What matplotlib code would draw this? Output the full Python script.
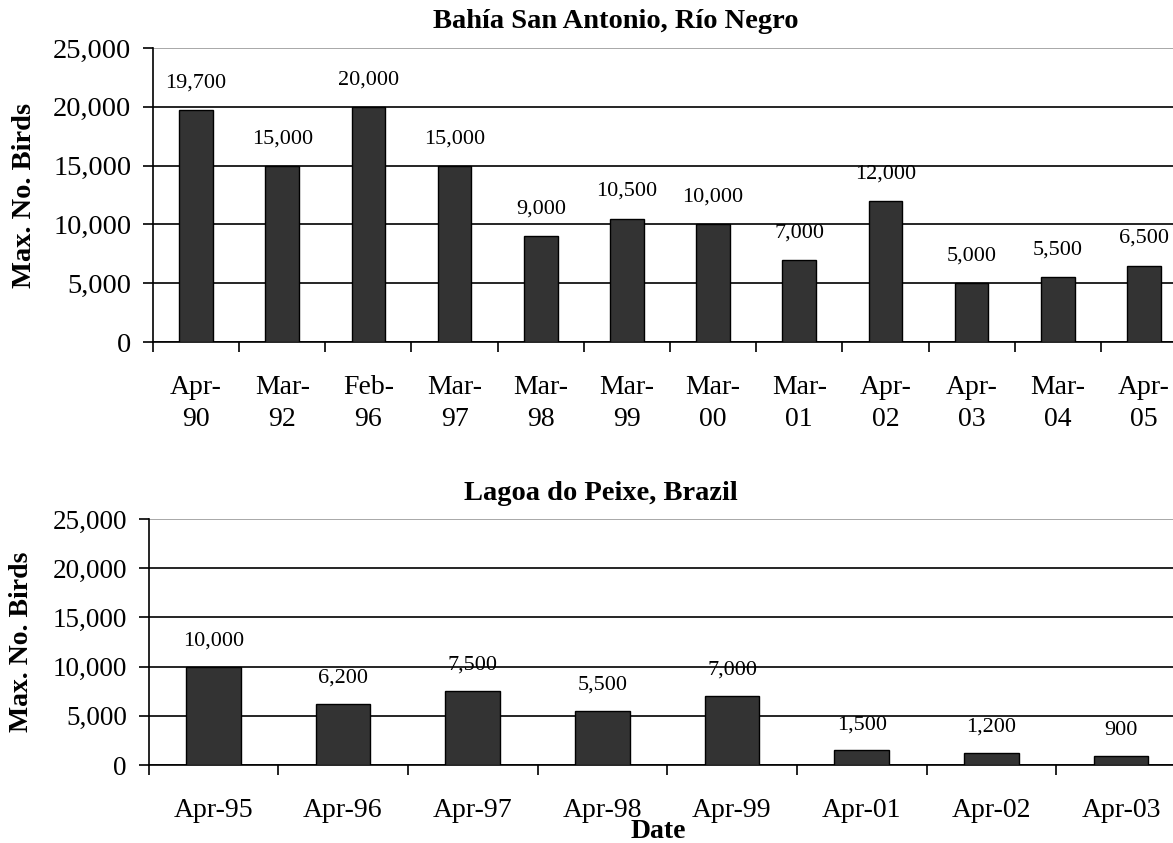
import matplotlib
matplotlib.use("Agg")
import matplotlib.pyplot as plt
import numpy as np

plt.rcParams['font.family'] = ['Liberation Serif', 'DejaVu Serif']

# Bahía San Antonio, Río Negro
rn_dates = ['Apr-\n90', 'Mar-\n92', 'Feb-\n96', 'Mar-\n97', 'Mar-\n98', 'Mar-\n99',
            'Mar-\n00', 'Mar-\n01', 'Apr-\n02', 'Apr-\n03', 'Mar-\n04', 'Apr-\n05']
rn_birds = [19700, 15000, 20000, 15000, 9000, 10500, 10000, 7000, 12000, 5000, 5500, 6500]

# Lagoa do Peixe, Brazil
lp_dates = ['Apr-95', 'Apr-96', 'Apr-97', 'Apr-98', 'Apr-99', 'Apr-01', 'Apr-02', 'Apr-03']
lp_birds = [10000, 6200, 7500, 5500, 7000, 1500, 1200, 900]

y_ticks = [0, 5000, 10000, 15000, 20000, 25000]


def panel(ax, labels, values, width, label_pad, val_offset, ytick_size):
    x = np.arange(len(values))
    ax.bar(x, values, width=width, color='#333333', edgecolor='black', linewidth=1.0, zorder=3)
    ax.set_xlim(-0.5, len(values) - 0.5)
    ax.set_ylim(0, 25000)
    ax.set_yticks(y_ticks)
    ax.set_yticklabels([f'{v:,}' for v in y_ticks], fontsize=ytick_size)
    ax.set_xticks(x)
    ax.set_xticklabels(labels, fontsize=20, linespacing=1.37)
    ax.set_xticks(np.arange(len(values) + 1) - 0.5, minor=True)
    ax.tick_params(axis='x', which='major', length=0, pad=label_pad)
    ax.tick_params(axis='x', which='minor', length=7.5, width=1.2, color='black')
    ax.tick_params(axis='y', length=7.5, width=1.2, pad=8)
    ax.yaxis.grid(True, color='black', linewidth=1.2, zorder=0)
    ax.get_ygridlines()[-1].set_color('#9a9a9a')
    ax.set_axisbelow(True)
    for s in ['top', 'right']:
        ax.spines[s].set_visible(False)
    ax.spines['left'].set_linewidth(1.2)
    ax.spines['bottom'].set_linewidth(1.2)
    for xi, v in zip(x, values):
        ax.annotate(f'{v:,}', (xi, v), xytext=(0, val_offset), textcoords='offset points',
                    ha='center', va='center', fontsize=16)


fig = plt.figure(figsize=(11.73, 8.43), dpi=100)

ax1 = fig.add_axes([0.1304, 0.5943, 0.8816, 0.3487])
panel(ax1, rn_dates, rn_birds, 0.39, 24, 19.5, 20.5)

ax2 = fig.add_axes([0.1266, 0.0925, 0.8844, 0.2918])
panel(ax2, lp_dates, lp_birds, 0.42, 24, 18.5, 19.5)

fig.text(616 / 1173, 1 - 22 / 843, 'Bahía San Antonio, Río Negro', ha='center', va='center',
         fontsize=20.5, fontweight='bold')
fig.text(601 / 1173, 1 - 493 / 843, 'Lagoa do Peixe, Brazil', ha='center', va='center',
         fontsize=20.5, fontweight='bold')
fig.text(25 / 1173, 1 - 195 / 843, 'Max. No. Birds', rotation=90, ha='center', va='center',
         fontsize=20.5, fontweight='bold')
fig.text(22 / 1173, 1 - 642 / 843, 'Max. No. Birds', rotation=90, ha='center', va='center',
         fontsize=20, fontweight='bold')
fig.text(658 / 1173, 1 - 831 / 843, 'Date', ha='center', va='center',
         fontsize=20, fontweight='bold')

fig.savefig('out.png', dpi=100)
plt.close(fig)
